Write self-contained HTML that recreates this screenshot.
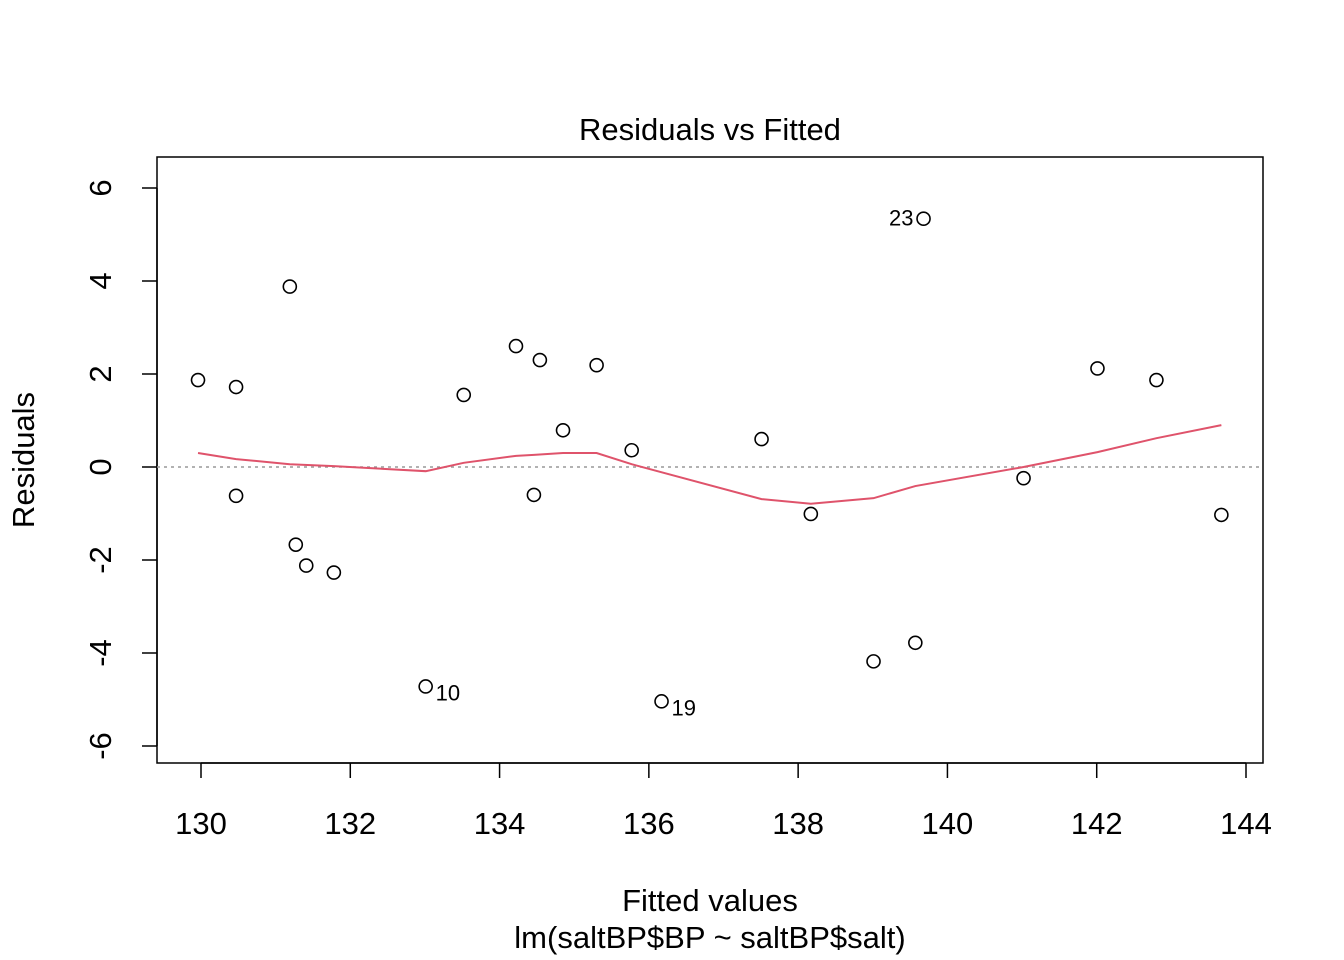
<!DOCTYPE html>
<html><head><meta charset="utf-8"><style>
html,body{margin:0;padding:0;background:#fff;}
svg{display:block;font-family:"Liberation Sans",Arial,sans-serif;}
</style></head><body>
<svg id="chart" width="1344" height="960">
<text x="710" y="140" font-size="31" text-anchor="middle">Residuals vs Fitted</text>
<rect x="157" y="157" width="1106" height="606" fill="none" stroke="#000" stroke-width="1.5"/>
<text x="710" y="911" font-size="31" text-anchor="middle">Fitted values</text>
<text x="710" y="948" font-size="31" text-anchor="middle">lm(saltBP$BP ~ saltBP$salt)</text>
<text transform="translate(34,460) rotate(-90)" font-size="31" text-anchor="middle">Residuals</text>
<g id="xaxis"></g>
<g id="yaxis"></g>
<g id="marks"></g>
</svg>
<script>
const xTicks = [130,132,134,136,138,140,142,144];
const yTicks = [-6,-4,-2,0,2,4,6];
const fitted = [129.96,130.47,130.47,131.19,131.27,131.41,131.78,133.01,133.52,134.22,134.46,134.54,134.85,135.30,135.77,136.17,137.51,138.17,139.01,139.57,139.68,141.02,142.01,142.80,143.67];
const residuals = [1.87,1.72,-0.62,3.88,-1.67,-2.12,-2.27,-4.72,1.55,2.60,-0.60,2.30,0.79,2.19,0.36,-5.04,0.60,-1.01,-4.18,-3.78,5.34,-0.24,2.12,1.87,-1.03];
const pointLabels = ["","","","","","","","10","","","","","","","","19","","","","","23","","","",""];
const smoothX = [129.96,130.47,131.19,131.78,133.01,133.52,134.22,134.46,134.85,135.30,135.77,137.51,138.17,139.01,139.57,141.02,142.01,142.80,143.67];
const smoothY = [0.30,0.17,0.06,0.02,-0.09,0.09,0.24,0.26,0.30,0.30,0.06,-0.69,-0.79,-0.67,-0.41,0.0,0.32,0.62,0.90];

const NS="http://www.w3.org/2000/svg";
const sx = v => 201 + (v-130)*(1246-201)/14;
const sy = v => 467 - v*(467-188)/6;
function mk(tag, attrs, parent){const e=document.createElementNS(NS,tag);for(const k in attrs)e.setAttribute(k,attrs[k]);parent.appendChild(e);return e;}
const xa=document.getElementById('xaxis'), ya=document.getElementById('yaxis'), mg=document.getElementById('marks');
let l=mk('line',{x1:sx(xTicks[0]),x2:sx(xTicks[xTicks.length-1]),y1:763,y2:763,stroke:'#000','stroke-width':1.5},xa);


xTicks.forEach(t=>{
  const tk=mk('line',{x1:sx(t),x2:sx(t),y1:763,y2:778,stroke:'#000','stroke-width':1.5},xa);
  
  
  const tx=mk('text',{x:sx(t),y:834,'font-size':31,'text-anchor':'middle'},xa);tx.textContent=t;
  
  
});
l=mk('line',{x1:157,x2:157,y1:sy(yTicks[0]),y2:sy(yTicks[yTicks.length-1]),stroke:'#000','stroke-width':1.5},ya);


yTicks.forEach(t=>{
  const tk=mk('line',{x1:142,x2:157,y1:sy(t),y2:sy(t),stroke:'#000','stroke-width':1.5},ya);
  
  
  const tx=mk('text',{transform:`translate(111,${sy(t)}) rotate(-90)`,'font-size':31,'text-anchor':'middle'},ya);tx.textContent=t;
  
  
});
const zl=mk('line',{x1:157,x2:1263,y1:sy(0),y2:sy(0),stroke:'#999','stroke-width':1.5,'stroke-dasharray':'3,4'},mg);


const sm=mk('polyline',{points:smoothX.map((x,i)=>sx(x)+','+sy(smoothY[i])).join(' '),fill:'none',stroke:'#DF536B','stroke-width':2},mg);


fitted.forEach((f,i)=>{
  const c=mk('circle',{cx:sx(f),cy:sy(residuals[i]),r:6.5,fill:'none',stroke:'#000','stroke-width':1.6},mg);
  
  
  if(pointLabels[i]){
    const left = residuals[i]>0;
    const t=mk('text',{x:left?sx(f)-10:sx(f)+10,y:left?sy(residuals[i])+7:sy(residuals[i])+14,'font-size':22,'text-anchor':left?'end':'start'},mg);
    t.textContent=pointLabels[i];
    
    
  }
});
</script>
</body></html>
